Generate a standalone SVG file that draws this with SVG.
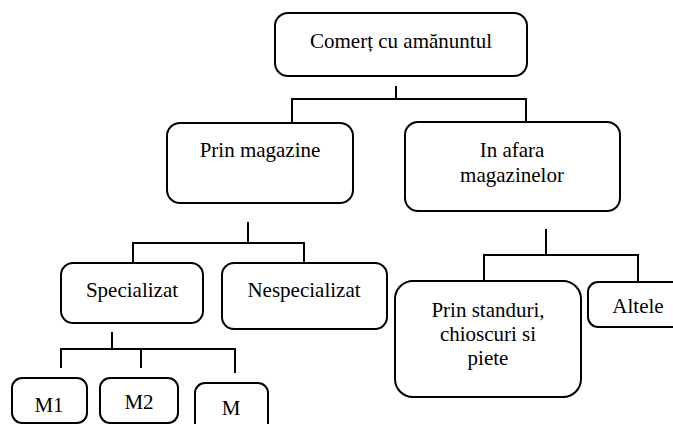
<svg xmlns="http://www.w3.org/2000/svg" width="673" height="424" viewBox="0 0 673 424">
<style>
.box{fill:#fff;stroke:#000;stroke-width:2}
.lbl{font-family:'Liberation Serif','Times New Roman',serif;font-size:21px;fill:#000;text-anchor:middle}
.con{fill:none;stroke:#000;stroke-width:2}
</style>
<rect width="673" height="424" fill="#fff"/>
<g id="connectors">
<path class="con" d="M396,86 V99 M292,122 V99 H526 V122"/>
<path class="con" d="M248,222 V243 M133,262 V243 H304 V262"/>
<path class="con" d="M112,332 V349 M61,368 V349 H235 V373 M141,349 V368"/>
<path class="con" d="M546,229 V255 M484,281 V255 H638 V282"/>
</g>
<g id="n-comert">
<rect class="box" x="275" y="13" width="252" height="63" rx="13"/>
<text class="lbl" x="401" y="48">Comerț cu amănuntul</text>
</g>
<g id="n-prin-magazine">
<rect class="box" x="167" y="123" width="186" height="80" rx="13"/>
<text class="lbl" x="260" y="157">Prin magazine</text>
</g>
<g id="n-in-afara">
<rect class="box" x="405" y="122" width="215" height="89" rx="13"/>
<text class="lbl" x="512" y="157">In afara</text>
<text class="lbl" x="512" y="182">magazinelor</text>
</g>
<g id="n-specializat">
<rect class="box" x="61" y="263" width="142" height="60" rx="12"/>
<text class="lbl" x="132" y="297">Specializat</text>
</g>
<g id="n-nespecializat">
<rect class="box" x="222" y="263" width="165" height="66" rx="12"/>
<text class="lbl" x="304" y="297">Nespecializat</text>
</g>
<g id="n-prin-standuri">
<rect class="box" x="395" y="281" width="186" height="116" rx="18"/>
<text class="lbl" x="488" y="317">Prin standuri,</text>
<text class="lbl" x="488" y="341">chioscuri si</text>
<text class="lbl" x="488" y="365">piete</text>
</g>
<g id="n-altele">
<rect class="box" x="588" y="282" width="100" height="45" rx="10"/>
<text class="lbl" x="638" y="313">Altele</text>
</g>
<g id="n-m1">
<rect class="box" x="12" y="378" width="75" height="45" rx="10"/>
<text class="lbl" x="49" y="412">M1</text>
</g>
<g id="n-m2">
<rect class="box" x="100" y="378" width="78" height="45" rx="10"/>
<text class="lbl" x="139" y="409">M2</text>
</g>
<g id="n-m">
<rect class="box" x="195" y="383" width="73" height="50" rx="10"/>
<text class="lbl" x="231" y="415">M</text>
</g>
</svg>
